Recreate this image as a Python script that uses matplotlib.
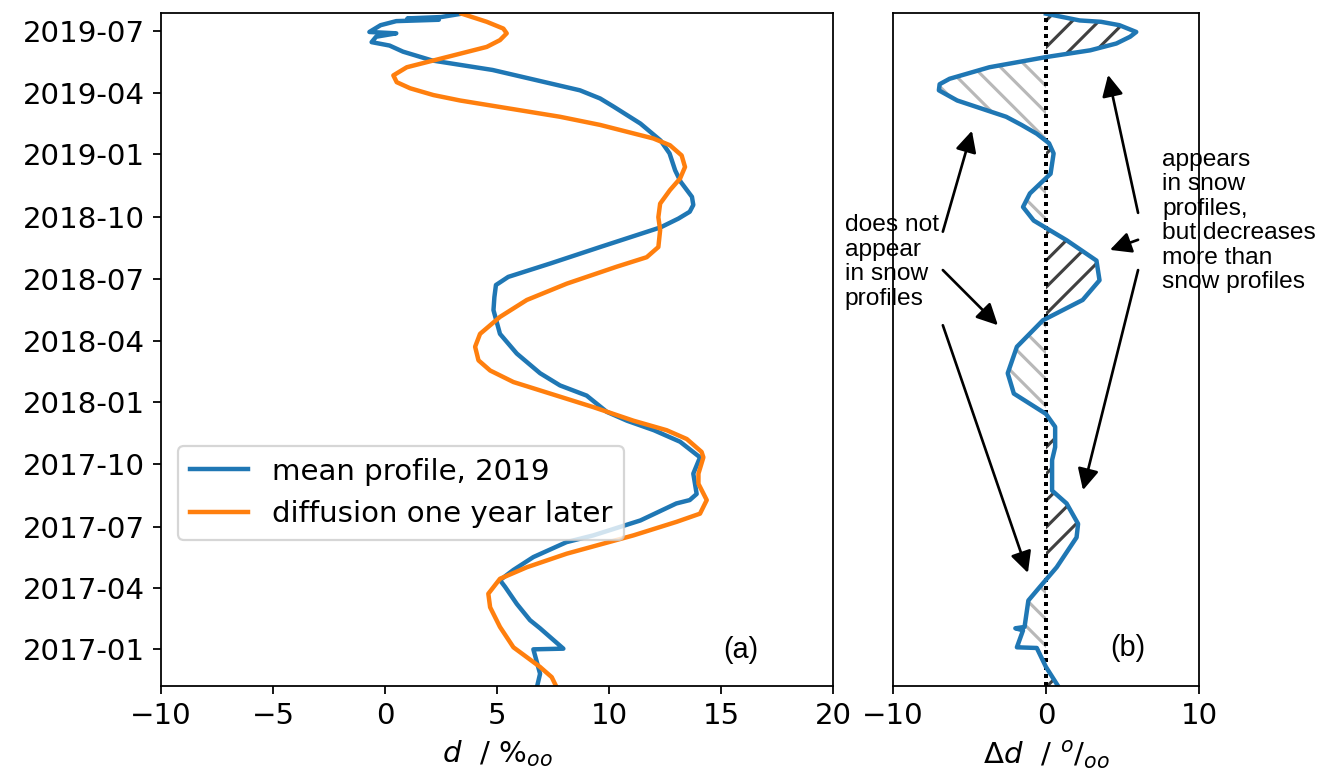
import numpy as np
import matplotlib
matplotlib.use("Agg")
import matplotlib.pyplot as plt
import matplotlib.dates as mdates

# times are decimal years
mean_year = [
    2019.566, 2019.551, 2019.546, 2019.541, 2019.535, 2019.518, 2019.491,
    2019.485, 2019.471, 2019.451, 2019.438, 2019.411, 2019.377, 2019.337,
    2019.256, 2019.223, 2019.189, 2019.122, 2019.054, 2019.001, 2018.933,
    2018.886, 2018.826, 2018.792, 2018.765, 2018.738, 2018.704, 2018.624,
    2018.557, 2018.503, 2018.469, 2018.422, 2018.368, 2018.274, 2018.193,
    2018.113, 2018.066, 2018.025, 2017.958, 2017.924, 2017.884, 2017.837,
    2017.776, 2017.709, 2017.628, 2017.601, 2017.588, 2017.521, 2017.460,
    2017.433, 2017.373, 2017.319, 2017.278, 2017.251, 2017.184, 2017.117,
    2017.084, 2017.003, 2016.999, 2016.902, 2016.843,
]
mean_d = [
    3.42, 2.5, 1.0, 2.4, 0.5, -0.2, -0.7,
    0.5, -0.4, -0.6, 0.2, 0.8, 2.1, 4.8,
    8.7, 9.6, 10.2, 11.4, 12.3, 12.7, 12.95,
    13.2, 13.7, 13.76, 13.6, 13.1, 12.3, 9.6,
    7.4, 5.5, 4.95, 4.88, 4.84, 5.13, 5.88,
    6.92, 7.81, 9.0, 9.9, 10.8, 12.0, 13.17,
    14.06, 13.76, 13.91, 13.6, 13.0, 11.4, 9.3,
    8.1, 6.62, 5.73, 5.13, 5.36, 5.88, 6.47,
    6.92, 7.96, 6.62, 6.92, 6.77,
]

diff_year = [
    2019.566, 2019.532, 2019.505, 2019.485, 2019.458, 2019.431, 2019.404,
    2019.377, 2019.350, 2019.317, 2019.290, 2019.263, 2019.236, 2019.216,
    2019.182, 2019.148, 2019.115, 2019.088, 2019.061, 2019.034, 2018.994,
    2018.947, 2018.900, 2018.853, 2018.799, 2018.745, 2018.691, 2018.624,
    2018.583, 2018.543, 2018.476, 2018.409, 2018.341, 2018.274, 2018.220,
    2018.166, 2018.126, 2018.079, 2018.032, 2017.978, 2017.924, 2017.884,
    2017.850, 2017.796, 2017.776, 2017.709, 2017.669, 2017.601, 2017.548,
    2017.514, 2017.460, 2017.386, 2017.332, 2017.285, 2017.225, 2017.171,
    2017.090, 2017.009, 2016.929, 2016.888, 2016.848,
]
diff_d = [
    3.42, 4.54, 5.28, 5.43, 5.13, 4.54, 3.35,
    2.16, 0.97, 0.37, 0.52, 1.12, 2.16, 3.35,
    5.58, 7.81, 9.6, 10.79, 11.98, 12.72, 13.24,
    13.39, 13.17, 12.72, 12.28, 12.2, 12.28, 12.2,
    11.68, 10.34, 8.11, 6.33, 5.13, 4.24, 4.02,
    4.17, 4.69, 5.73, 7.37, 9.3, 11.09, 12.57,
    13.47, 14.13, 14.21, 13.99, 13.99, 14.36, 14.06,
    13.02, 11.09, 8.11, 6.33, 5.13, 4.61, 4.69,
    5.13, 5.73, 6.92, 7.44, 7.66,
]

delta_year = [
    2019.566, 2019.539, 2019.533, 2019.518, 2019.491, 2019.471, 2019.445,
    2019.418, 2019.391, 2019.350, 2019.303, 2019.280, 2019.256, 2019.216,
    2019.148, 2019.115, 2019.081, 2019.042, 2019.001, 2018.920, 2018.839,
    2018.785, 2018.731, 2018.651, 2018.570, 2018.489, 2018.409, 2018.328,
    2018.220, 2018.113, 2018.032, 2017.951, 2017.897, 2017.817, 2017.763,
    2017.642, 2017.588, 2017.507, 2017.453, 2017.332, 2017.251, 2017.198,
    2017.090, 2017.084, 2017.077, 2017.009, 2017.006, 2016.929, 2016.841,
]
delta_d = [
    0.0, 2.2, 3.6, 4.8, 5.9, 5.5, 4.6,
    2.9, 0.0, -3.7, -6.3, -6.95, -7.0, -5.8,
    -2.6, -1.6, -0.6, 0.2, 0.5, 0.3, -1.05,
    -1.5, -0.8, 1.35, 3.3, 3.5, 2.4, -0.2,
    -1.9, -2.5, -2.1, 0.0, 0.6, 0.6, 0.4,
    0.4, 1.35, 2.1, 2.0, 0.7, -0.4, -1.15,
    -1.4, -2.0, -1.5, -1.9, -0.6, 0.0, 0.9,
]

legend_labels = ["mean profile, 2019", "diffusion one year later"]
note_left = "does not\nappear\nin snow\nprofiles"
note_right = "appears\nin snow\nprofiles,\nbut decreases\nmore than\nsnow profiles"


def to_dates(years):
    days = np.round((np.asarray(years) - 2017.0) * 365.25).astype(int)
    return np.datetime64("2017-01-01") + days.astype("timedelta64[D]")


plt.rcParams["font.size"] = 13.2
plt.rcParams["hatch.linewidth"] = 1.4

fig = plt.figure(figsize=(1319 / 160, 782 / 160), dpi=160)
ax1 = fig.add_axes([0.1221, 0.1228, 0.5095, 0.8606])
ax2 = fig.add_axes([0.6770, 0.1228, 0.2320, 0.8606], sharey=ax1)

t_mean = to_dates(mean_year)
t_diff = to_dates(diff_year)
t_delta = to_dates(delta_year)
delta = np.array(delta_d)

# (a) profiles
ax1.plot(mean_d, t_mean, color="#1f77b4", lw=2, label=legend_labels[0])
ax1.plot(diff_d, t_diff, color="#ff7f0e", lw=2, label=legend_labels[1])
ax1.set_xlim(-10, 20)
ax1.set_ylim(to_dates([2016.851])[0], to_dates([2019.567])[0])
ax1.yaxis.set_major_locator(mdates.MonthLocator(bymonth=[1, 4, 7, 10]))
ax1.yaxis.set_major_formatter(mdates.DateFormatter("%Y-%m"))
ax1.set_xlabel(r"$d\ \ /\ \%_{oo}$")
ax1.legend(loc="lower left", bbox_to_anchor=(0.025, 0.217), borderaxespad=0)
ax1.text(0.862, 0.053, "(a)", transform=ax1.transAxes, ha="center",
         va="center", family="Liberation Sans", fontsize=13)

# (b) difference with hatched areas
ax2.fill_betweenx(t_delta, 0, delta, where=delta > 0, interpolate=True,
                  facecolor="none", edgecolor="0.25", hatch="//", linewidth=0)
ax2.fill_betweenx(t_delta, 0, delta, where=delta < 0, interpolate=True,
                  facecolor="none", edgecolor="0.72", hatch="\\\\", linewidth=0)
ax2.axvline(0, color="k", lw=1.8, ls=(0, (1, 1)))
ax2.plot(delta, t_delta, color="#1f77b4", lw=2)
ax2.set_xlim(-10, 10)
ax2.set_xticks([-10, 0, 10])
ax2.tick_params(axis="y", left=False, labelleft=False)
ax2.set_xlabel(r"$\Delta d\ \ /\ ^o/_{oo}$")
ax2.text(0.768, 0.056, "(b)", transform=ax2.transAxes, ha="center",
         va="center", family="Liberation Sans", fontsize=13)

ax2.text(-0.157, 0.630, note_left, transform=ax2.transAxes, ha="left",
         va="center", family="Liberation Sans", fontsize=11, linespacing=1.17)
ax2.text(0.880, 0.691, note_right, transform=ax2.transAxes, ha="left",
         va="center", family="Liberation Sans", fontsize=11, linespacing=1.14)

arrows = [
    ((0.163, 0.675), (0.258, 0.825)),
    ((0.163, 0.618), (0.343, 0.536)),
    ((0.163, 0.536), (0.441, 0.168)),
    ((0.801, 0.703), (0.703, 0.908)),
    ((0.801, 0.663), (0.709, 0.648)),
    ((0.801, 0.618), (0.621, 0.291)),
]
for start, end in arrows:
    ax2.annotate("", xy=end, xytext=start, xycoords="axes fraction",
                 textcoords="axes fraction", annotation_clip=False,
                 arrowprops=dict(arrowstyle="-|>", color="k", lw=1.2,
                                 mutation_scale=20, shrinkA=0, shrinkB=0))

fig.savefig("out.png", dpi=160)
